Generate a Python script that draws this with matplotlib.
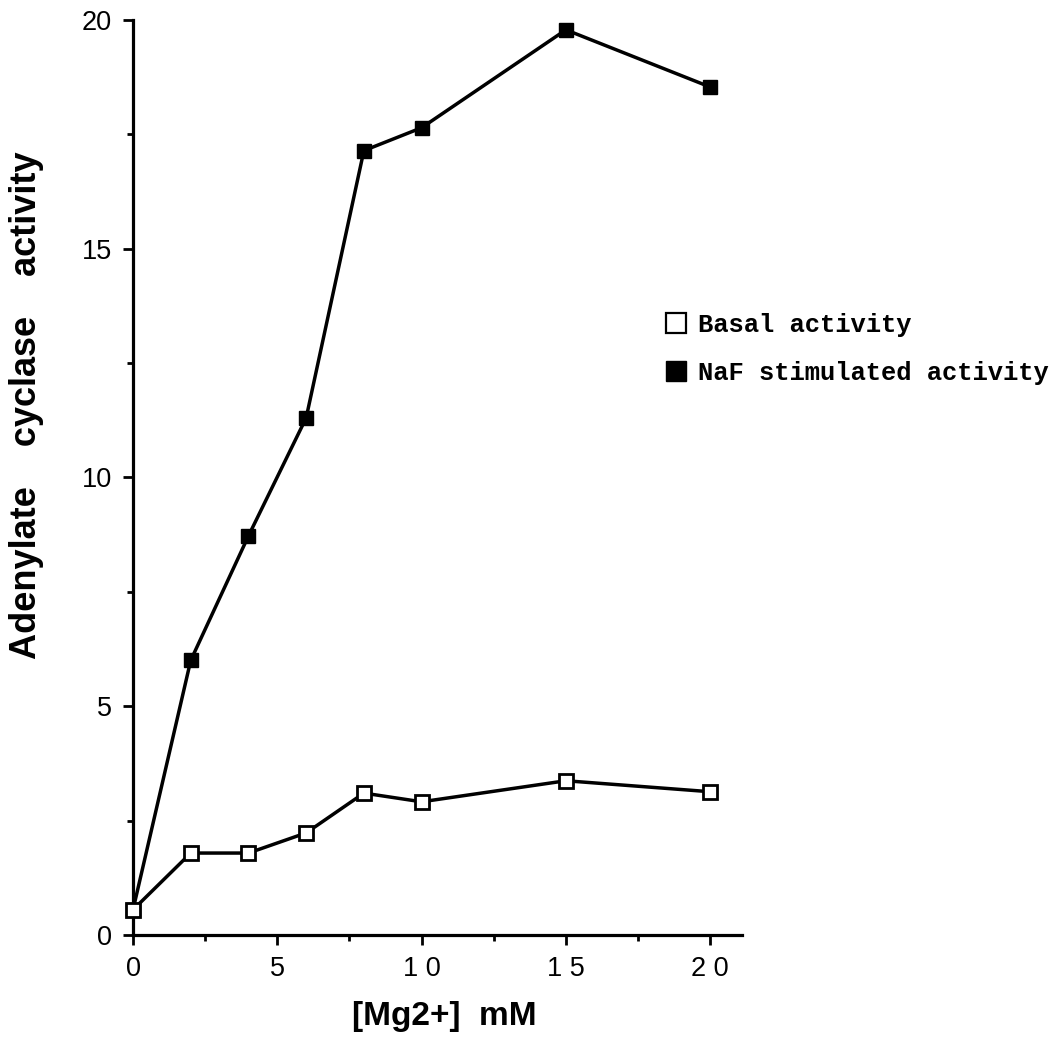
import matplotlib
matplotlib.use("Agg")
from matplotlib import pyplot as plt
from matplotlib.lines import Line2D

mg = [0, 2, 4, 6, 8, 10, 15, 20]
basal = [0.55, 1.79, 1.79, 2.23, 3.10, 2.91, 3.37, 3.13]
naf = [0.55, 6.0, 8.72, 11.3, 17.14, 17.64, 19.78, 18.53]

xticks = [0, 5, 10, 15, 20]
xticklabels = ["0", "5", "1 0", "1 5", "2 0"]
yticks = [0, 5, 10, 15, 20]

plt.rcParams['font.family'] = ['Liberation Sans', 'DejaVu Sans']

fig = plt.figure(figsize=(10.59, 10.40), dpi=100)
ax = fig.add_axes([0.1256, 0.101, 0.575, 0.880])

ax.plot(mg, naf, color='black', lw=2.5, marker='s', ms=10,
        mfc='black', mec='black', clip_on=False, zorder=3)
ax.plot(mg, basal, color='black', lw=2.5, marker='s', ms=9.5,
        mfc='white', mec='black', mew=2, clip_on=False, zorder=4)

ax.set_xlim(0, 21.1)
ax.set_ylim(0, 20)
for s in ['top', 'right']:
    ax.spines[s].set_visible(False)
for s in ['left', 'bottom']:
    ax.spines[s].set_linewidth(2.3)

ax.set_xticks(xticks)
ax.set_xticklabels(xticklabels)
ax.set_xticks([2.5, 7.5, 12.5, 17.5], minor=True)
ax.set_yticks(yticks)
ax.set_yticks([2.5, 7.5, 12.5, 17.5], minor=True)
ax.tick_params(axis='both', which='major', labelsize=19.5, width=2, length=7)
ax.tick_params(axis='both', which='minor', width=2, length=4)
ax.tick_params(axis='x', pad=8)
ax.tick_params(axis='y', pad=8)

ax.set_xlabel("[Mg2+]  mM", fontsize=24, fontweight='bold')
ax.set_ylabel("Adenylate    cyclase    activity", fontsize=26,
              fontweight='bold')
ax.xaxis.set_label_coords(0.512, -0.072)
ax.yaxis.set_label_coords(-0.146, 0.579)

handles = [
    Line2D([], [], ls='none', marker='s', ms=14, mfc='white', mec='black', mew=1.6),
    Line2D([], [], ls='none', marker='s', ms=14, mfc='black', mec='black'),
]
fig.legend(handles, ["Basal activity", "NaF stimulated activity"],
           loc='upper left', bbox_to_anchor=(0.607, 0.721), frameon=False,
           handlelength=0.8, handletextpad=0.45, labelspacing=0.95,
           prop={'family': 'Liberation Mono', 'size': 18.4, 'weight': 'bold'})

fig.savefig("out.png", dpi=100)
